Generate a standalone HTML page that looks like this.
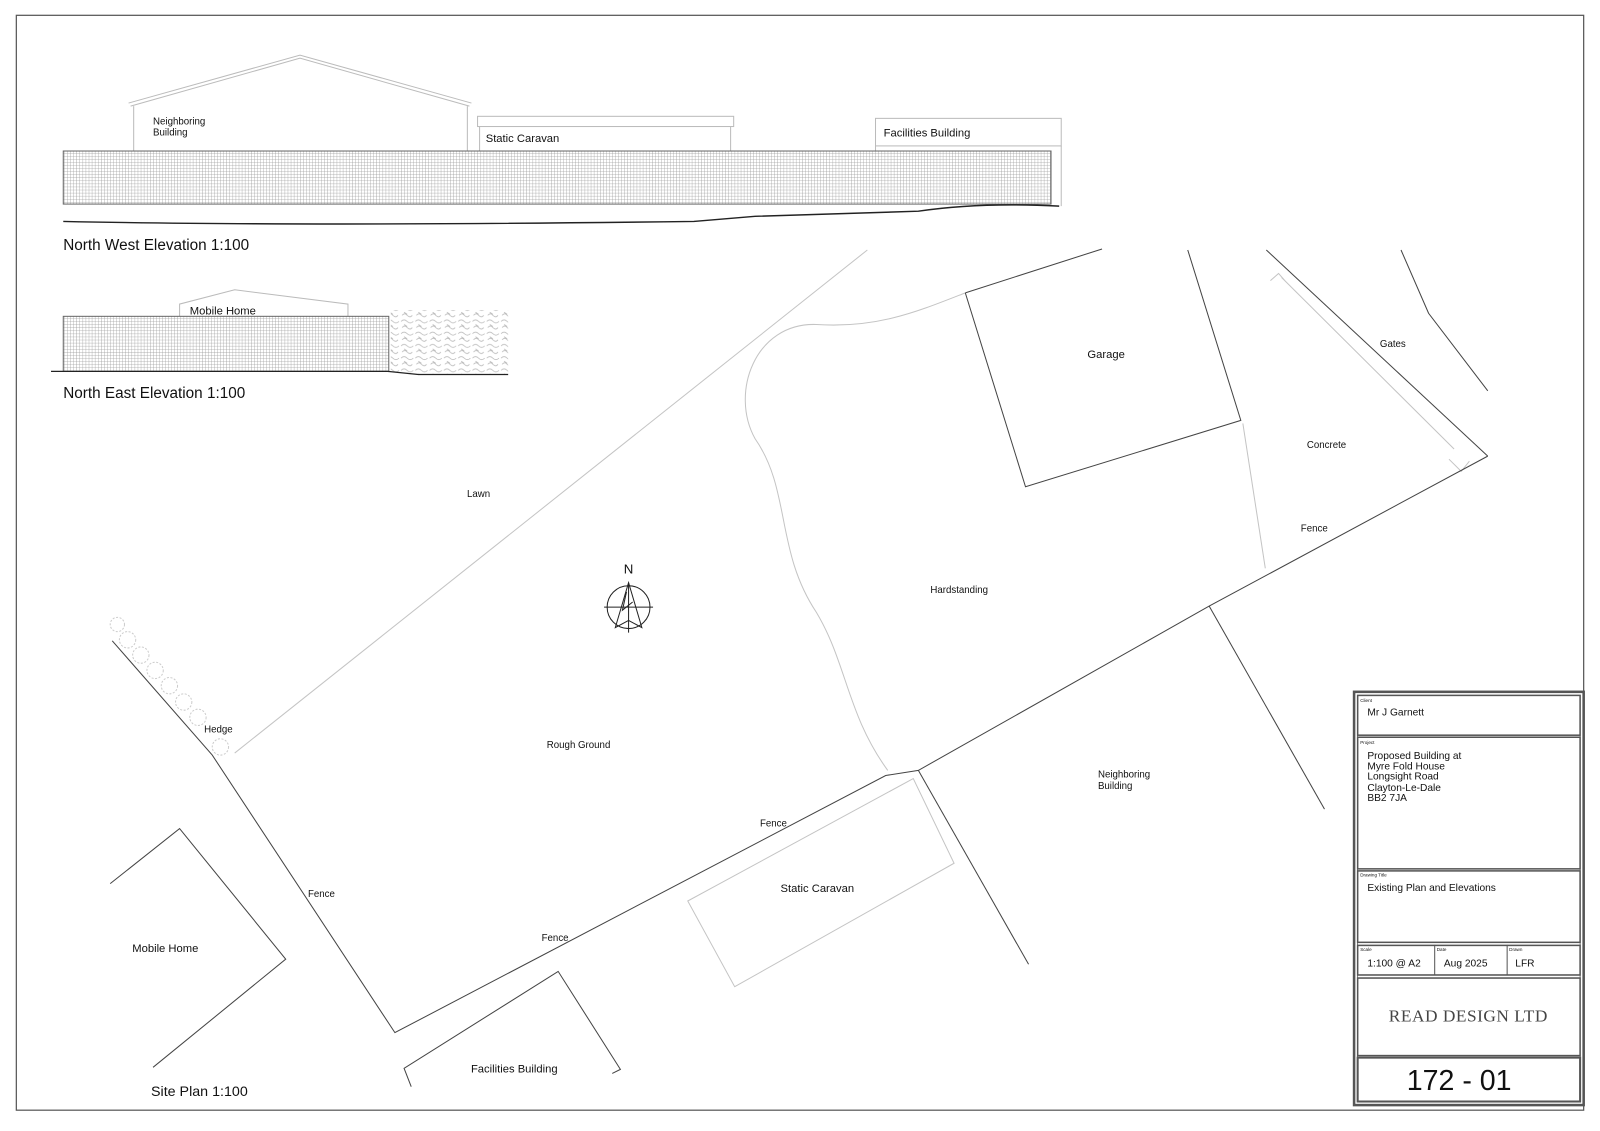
<!DOCTYPE html>
<html><head><meta charset="utf-8"><style>
html,body{margin:0;padding:0;background:#fff;}
svg{display:block;}
text{font-family:"Liberation Sans",sans-serif;fill:#111;}
</style></head><body>
<svg width="1600" height="1131" viewBox="0 0 1568 1108.4" preserveAspectRatio="none" xmlns="http://www.w3.org/2000/svg">
<defs>
<pattern id="grid" width="3" height="3" patternUnits="userSpaceOnUse">
<rect width="3" height="3" fill="#fff"/>
<path d="M0 0H3M0 0V3" stroke="#999" stroke-width="0.7"/>
</pattern>
<pattern id="bush" width="14" height="12" patternUnits="userSpaceOnUse">
<path d="M1 3q3-3 6 0q3 3 6 0M2 9q3-3 5 0q3 3 5 0M4 6l3 2" stroke="#bbb" fill="none" stroke-width="0.8"/>
</pattern>
</defs>
<rect x="16" y="15" width="1536" height="1073" fill="none" stroke="#555" stroke-width="1.2"/>

<!-- NW elevation -->
<g fill="none" stroke="#bbb" stroke-width="1">
<path d="M128 104 L294 57 L460 104"/>
<path d="M126 101 L294 54 L462 101"/>
<path d="M131 104V148M458 104V148"/>
<rect x="468" y="114" width="251" height="10"/>
<path d="M470 124V148M716 124V148"/>
<rect x="858" y="116" width="182" height="27"/>
<path d="M858 143V148M1040 143V202"/>
</g>
<rect x="62" y="148" width="968" height="52" fill="url(#grid)" stroke="#666" stroke-width="1"/>
<path d="M62 217 Q300 222 680 217 L740 212 L900 207 Q960 198 1038 202" fill="none" stroke="#222" stroke-width="1.4"/>
<text x="150" y="122" font-size="9.5">Neighboring</text>
<text x="150" y="133" font-size="9.5">Building</text>
<text x="476" y="139" font-size="11">Static Caravan</text>
<text x="866" y="134" font-size="11">Facilities Building</text>
<text x="62" y="245" font-size="15">North West Elevation 1:100</text>

<!-- NE elevation -->
<g fill="none" stroke="#bbb"><path d="M176 310V298L230 284L341 298V310"/></g>
<rect x="62" y="310" width="319" height="54" fill="url(#grid)" stroke="#666"/>
<rect x="383" y="304" width="115" height="62" fill="url(#bush)"/>
<path d="M50 364H380L410 367H498" fill="none" stroke="#222" stroke-width="1.2"/>
<text x="186" y="308" font-size="11">Mobile Home</text>
<text x="62" y="390" font-size="15">North East Elevation 1:100</text>

<!-- Site plan -->
<g fill="none" stroke="#c4c4c4" stroke-width="1">
<path d="M230 738L850 245"/>
<path d="M946 287C900 305 860 322 800 318C740 316 715 385 740 430C775 480 760 540 800 600C830 650 830 700 870 755"/>
<path d="M674 883L895 763L935 846L720 967Z"/>
<path d="M1218 415L1240 557"/>
<path d="M1256 272L1425 440M1245 275L1253 268L1260 276M1420 450L1432 462L1440 452"/>
<g stroke="#ccc" stroke-dasharray="2 1.5">
<circle cx="115" cy="612" r="7"/><circle cx="125" cy="627" r="8"/><circle cx="138" cy="642" r="8"/><circle cx="152" cy="657" r="8"/><circle cx="166" cy="672" r="8"/><circle cx="180" cy="688" r="8"/><circle cx="194" cy="703" r="8"/><circle cx="216" cy="732" r="8"/>
</g>
</g>
<g fill="none" stroke="#444" stroke-width="1">
<path d="M110 628L208 740L387 1012L868 760L900 755L1185 594L1458 447"/>
<path d="M1185 594L1298 793"/>
<path d="M900 755L1008 945"/>
<path d="M946 287L1080 244M1164 245L1216 412L1005 477L946 287"/>
<path d="M1241 245L1458 447"/>
<path d="M1373 245L1400 307L1458 383"/>
<path d="M108 866L176 812L280 940L150 1046"/>
<path d="M403 1065L396 1047L547 952L608 1048L600 1052"/>
</g>
<!-- compass -->
<g fill="none" stroke="#222" stroke-width="1">
<circle cx="616" cy="595" r="21"/>
<path d="M592 595H640M616 571V620"/>
<path d="M616 571L603 615L616 608L629 615Z"/>
<path d="M614 580L610 598L620 590"/>
</g>
<text x="616" y="562" font-size="13" text-anchor="middle">N</text>

<g font-size="9.5">
<text x="469" y="487" text-anchor="middle">Lawn</text>
<text x="940" y="581" text-anchor="middle">Hardstanding</text>
<text x="1084" y="351" text-anchor="middle" font-size="11">Garage</text>
<text x="1365" y="340" text-anchor="middle">Gates</text>
<text x="1300" y="439" text-anchor="middle">Concrete</text>
<text x="1288" y="521" text-anchor="middle">Fence</text>
<text x="214" y="718" text-anchor="middle">Hedge</text>
<text x="567" y="733" text-anchor="middle">Rough Ground</text>
<text x="1076" y="762">Neighboring</text>
<text x="1076" y="773">Building</text>
<text x="758" y="810" text-anchor="middle">Fence</text>
<text x="315" y="879" text-anchor="middle">Fence</text>
<text x="544" y="922" text-anchor="middle">Fence</text>
</g>
<text x="801" y="874" font-size="11" text-anchor="middle">Static Caravan</text>
<text x="162" y="933" font-size="11" text-anchor="middle">Mobile Home</text>
<text x="504" y="1051" font-size="11" text-anchor="middle">Facilities Building</text>
<text x="148" y="1074" font-size="14">Site Plan 1:100</text>

<!-- title block -->
<g fill="none" stroke="#555">
<rect x="1327" y="678" width="225" height="405" stroke-width="2.5"/>
<rect x="1330.5" y="681.5" width="218" height="398" stroke-width="0.8"/>
<rect x="1330.5" y="681.5" width="218" height="39" stroke-width="1.5"/>
<rect x="1330.5" y="722.5" width="218" height="129" stroke-width="1.5"/>
<rect x="1330.5" y="853.5" width="218" height="70" stroke-width="1.5"/>
<rect x="1330.5" y="926.5" width="218" height="29" stroke-width="1.5"/>
<path d="M1406 926V955M1477 926V955"/>
<rect x="1330.5" y="958.5" width="218" height="76" stroke-width="1.5"/>
<rect x="1330.5" y="1036.5" width="218" height="43" stroke-width="2"/>
</g>
<g font-size="4.5" fill="#333">
<text x="1333" y="688">Client</text>
<text x="1333" y="729">Project</text>
<text x="1333" y="859">Drawing Title</text>
<text x="1333" y="932">Scale</text>
<text x="1408" y="932">Date</text>
<text x="1479" y="932">Drawn</text>
</g>
<g font-size="10">
<text x="1340" y="701">Mr J Garnett</text>
<text x="1340" y="744">Proposed Building at</text>
<text x="1340" y="754">Myre Fold House</text>
<text x="1340" y="764">Longsight Road</text>
<text x="1340" y="775">Clayton-Le-Dale</text>
<text x="1340" y="785">BB2 7JA</text>
<text x="1340" y="873">Existing Plan and Elevations</text>
<text x="1340" y="947">1:100 @ A2</text>
<text x="1415" y="947">Aug 2025</text>
<text x="1485" y="947">LFR</text>
</g>
<text x="1439" y="1001" font-size="17" text-anchor="middle" style="font-family:'Liberation Serif',serif;fill:#444;letter-spacing:0.5px">READ DESIGN LTD</text>
<text x="1430" y="1068" font-size="28" text-anchor="middle">172 - 01</text>
</svg>
</body></html>
